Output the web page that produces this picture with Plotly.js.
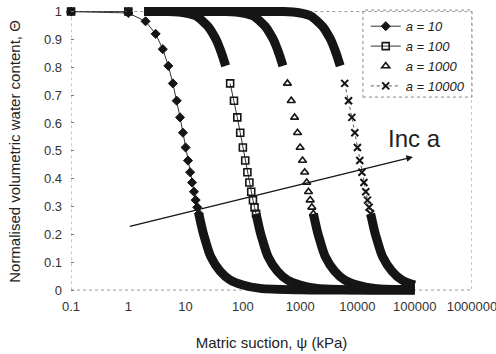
<!DOCTYPE html>
<html><head><meta charset="utf-8">
<script src="https://cdn.plot.ly/plotly-3.0.1.min.js"></script>
<style>html,body{margin:0;padding:0;background:#fff}</style>
</head><body><div id="chart" style="width:496px;height:354px"></div>
<script>
const seriesNames = ['a = 10', 'a = 100', 'a = 1000', 'a = 10000'];
const xTickVals = [0.1, 1, 10, 100, 1000, 10000, 100000, 1000000];
const xTickText = ['0.1', '1', '10', '100', '1000', '10000', '100000', '1000000'];
const yTickVals = [0, 0.1, 0.2, 0.3, 0.4, 0.5, 0.6, 0.7, 0.8, 0.9, 1];
const yTickText = ['0', '0.1', '0.2', '0.3', '0.4', '0.5', '0.6', '0.7', '0.8', '0.9', '1'];

// visible (separate) markers of each series
const psi10 = [0.1, 1, 2, 3, 4, 5, 6, 7, 8, 9, 10, 11, 12, 13, 14, 15, 16, 17];
const theta10 = [1, 0.995, 0.965, 0.92, 0.865, 0.805, 0.742, 0.68, 0.62, 0.565, 0.512, 0.465, 0.423, 0.386, 0.353, 0.323, 0.297, 0.274];
const psi100 = [0.1, 1, null, 60, 70, 80, 90, 100, 110, 120, 130, 140, 150, 160, 170];
const theta100 = [1, 1, null, 0.742, 0.68, 0.62, 0.565, 0.512, 0.465, 0.423, 0.386, 0.353, 0.323, 0.297, 0.274];
const psi1000 = [0.1, 1, 600, 700, 800, 900, 1000, 1100, 1200, 1300, 1400, 1500, 1600, 1700];
const theta1000 = [1, 1, 0.742, 0.68, 0.62, 0.565, 0.512, 0.465, 0.423, 0.386, 0.353, 0.323, 0.297, 0.274];
const psi10000 = [0.1, 1, null, 6000, 7000, 8000, 9000, 10000, 11000, 12000, 13000, 14000, 15000, 16000, 17000];
const theta10000 = [1, 1, null, 0.742, 0.68, 0.62, 0.565, 0.512, 0.465, 0.423, 0.386, 0.353, 0.323, 0.297, 0.274];

// dense (overlapping-marker) stretches of each series
const bandPsi10 = [17, 20, 22, 27.5, 40, 60, 100, 200, 1000, 100000];
const bandTheta10 = [0.274, 0.21, 0.18, 0.12, 0.068, 0.036, 0.018, 0.006, 0.001, 0];
const bandPsi100 = [1.9, 5, 10, 15, 20, 25, 30, 35, 40, 45, 50];
const bandTheta100 = [1, 1, 0.995, 0.985, 0.965, 0.945, 0.92, 0.895, 0.865, 0.835, 0.805];
const bandPsi100b = [170, 200, 220, 275, 400, 600, 1000, 2000, 10000, 100000];
const bandTheta100b = [0.274, 0.21, 0.18, 0.12, 0.068, 0.036, 0.018, 0.006, 0.001, 0];
const bandPsi1000 = [1.9, 10, 50, 100, 150, 200, 250, 300, 350, 400, 450, 500];
const bandTheta1000 = [1, 1, 1, 0.995, 0.985, 0.965, 0.945, 0.92, 0.895, 0.865, 0.835, 0.805];
const bandPsi1000b = [1700, 2000, 2200, 2750, 4000, 6000, 10000, 20000, 100000];
const bandTheta1000b = [0.274, 0.21, 0.18, 0.12, 0.068, 0.036, 0.018, 0.006, 0.001];
const bandPsi10000 = [1.9, 10, 100, 500, 1000, 1500, 2000, 2500, 3000, 3500, 4000, 4500, 5000];
const bandTheta10000 = [1, 1, 1, 1, 0.995, 0.985, 0.965, 0.945, 0.92, 0.895, 0.865, 0.835, 0.805];
const bandPsi10000b = [17000, 20000, 22000, 27500, 40000, 60000, 100000];
const bandTheta10000b = [0.274, 0.21, 0.18, 0.12, 0.068, 0.036, 0.018];

// arrow annotation ("Inc a")
const arrowFrom = [1, 0.227];
const arrowTo = [93000, 0.478];
const arrowLabel = 'Inc a';
const arrowLabelPos = [100000, 0.543];

const ink = '#151515';
const FONT = 'Liberation Sans, Arial, sans-serif';

function band(x, y) {
  return {x: x, y: y, type: 'scatter', mode: 'lines', showlegend: false, hoverinfo: 'skip',
          line: {color: ink, width: 9, shape: 'spline', smoothing: 0.8}};
}

const traces = [
  band(bandPsi10, bandTheta10),
  band(bandPsi100, bandTheta100), band(bandPsi100b, bandTheta100b),
  band(bandPsi1000, bandTheta1000), band(bandPsi1000b, bandTheta1000b),
  band(bandPsi10000, bandTheta10000), band(bandPsi10000b, bandTheta10000b),
  {x: psi10, y: theta10, name: seriesNames[0], type: 'scatter', mode: 'lines+markers', cliponaxis: false,
   line: {color: '#333', width: 1},
   marker: {symbol: 'diamond', size: 7, color: ink, line: {color: ink, width: 1}}},
  {x: psi100, y: theta100, name: seriesNames[1], type: 'scatter', mode: 'lines+markers', cliponaxis: false, connectgaps: false,
   line: {color: '#333', width: 1},
   marker: {symbol: 'square-open', size: 7, color: ink, line: {color: ink, width: 1.6}}},
  {x: psi1000, y: theta1000, name: seriesNames[2], type: 'scatter', mode: 'markers', cliponaxis: false,
   marker: {symbol: 'triangle-up-open', size: 7, color: ink, line: {color: ink, width: 1.6}}},
  {x: psi10000, y: theta10000, name: seriesNames[3], type: 'scatter', mode: 'lines+markers', cliponaxis: false, connectgaps: false,
   line: {color: '#555', width: 1, dash: 'dot'},
   marker: {symbol: 'x-thin-open', size: 7, color: ink, line: {color: ink, width: 2}}}
];

const layout = {
  width: 496, height: 354,
  margin: {l: 71, r: 24, t: 6, b: 57, pad: 0},
  paper_bgcolor: '#fff', plot_bgcolor: '#fff',
  font: {family: FONT, color: '#222', size: 13},
  showlegend: true,
  legend: {x: 0.735, y: 0.982, xanchor: 'left', yanchor: 'top', bgcolor: 'rgba(0,0,0,0)',
           borderwidth: 0, font: {family: FONT, size: 13, style: 'italic', color: '#222'},
           itemwidth: 30, tracegroupgap: 0},
  xaxis: {type: 'log', range: [-1.0005, 6.0005], tickvals: xTickVals, ticktext: xTickText,
          showgrid: false, zeroline: false, showline: false, ticks: '',
          ticklabeloverflow: 'allow',
          tickfont: {size: 13, color: '#333'},
          title: {text: 'Matric suction, ψ (kPa)', font: {size: 15, color: '#222'}, standoff: 24},
          automargin: false},
  yaxis: {range: [-0.025, 1.02], tickvals: yTickVals, ticktext: yTickText,
          showgrid: false, zeroline: false, showline: false,
          ticks: 'inside', ticklen: 3, tickcolor: '#777', ticklabelstandoff: 8,
          tickfont: {size: 13, color: '#333'},
          title: {text: 'Normalised volumetric water content, Θ', font: {size: 15, color: '#222'}, standoff: 19},
          automargin: false},
  shapes: [
    {type: 'rect', xref: 'x', yref: 'y', x0: 0.1, x1: 1000000, y0: 0, y1: 1, layer: 'below',
     line: {color: '#999', width: 1, dash: 'dot'}},
    {type: 'rect', xref: 'paper', yref: 'paper', x0: 0.728, x1: 1.0, y0: 0.687, y1: 0.986, layer: 'above',
     line: {color: '#888', width: 1, dash: 'dot'}}
  ],
  annotations: [
    {x: Math.log10(arrowTo[0]), y: arrowTo[1], ax: Math.log10(arrowFrom[0]), ay: arrowFrom[1],
     xref: 'x', yref: 'y', axref: 'x', ayref: 'y', text: '', showarrow: true,
     arrowhead: 2, arrowsize: 1, arrowwidth: 1.3, arrowcolor: ink},
    {x: Math.log10(arrowLabelPos[0]), y: arrowLabelPos[1], xref: 'x', yref: 'y', text: arrowLabel,
     showarrow: false, font: {family: FONT, size: 24, color: '#222'}}
  ]
};

Plotly.newPlot('chart', traces, layout, {staticPlot: true, displayModeBar: false});
</script></body></html>
